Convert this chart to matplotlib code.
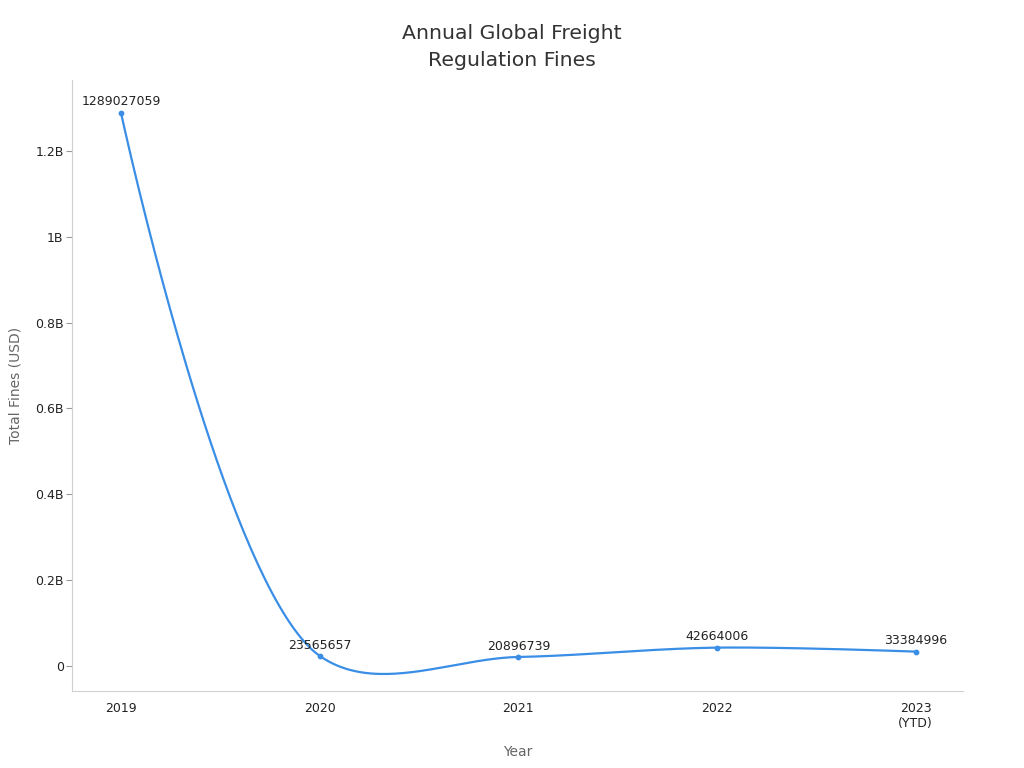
import numpy as np
import matplotlib
matplotlib.use("Agg")
import matplotlib.pyplot as plt
from matplotlib.ticker import FuncFormatter

# data
years = [2019, 2020, 2021, 2022, 2023]
year_labels = ["2019", "2020", "2021", "2022", "2023\n(YTD)"]
fines = [1289027059, 23565657, 20896739, 42664006, 33384996]

# rough pixel scale of the plot, used only to shape the smooth curve
PX_PER_YEAR = 198.75
PX_PER_UNIT = 429.2e-9


def catmull_rom(x, y, alpha=0.5, n=80):
    # centripetal catmull-rom (like d3 curveCatmullRom), done in pixel space
    P = np.column_stack([np.asarray(x, float) * PX_PER_YEAR,
                         np.asarray(y, float) * PX_PER_UNIT])
    pts = np.vstack([P[0], P, P[-1]])
    out = []
    for i in range(1, len(pts) - 2):
        p0, p1, p2, p3 = pts[i - 1], pts[i], pts[i + 1], pts[i + 2]
        l01 = np.linalg.norm(p1 - p0)
        l12 = np.linalg.norm(p2 - p1)
        l23 = np.linalg.norm(p3 - p2)
        c1 = p1.copy()
        c2 = p2.copy()
        if l01 > 1e-9:
            a = 2 * l01 ** (2 * alpha) + 3 * l01 ** alpha * l12 ** alpha + l12 ** (2 * alpha)
            m = 3 * l01 ** alpha * (l01 ** alpha + l12 ** alpha)
            c1 = (p1 * a - p0 * l12 ** (2 * alpha) + p2 * l01 ** (2 * alpha)) / m
        if l23 > 1e-9:
            b = 2 * l23 ** (2 * alpha) + 3 * l23 ** alpha * l12 ** alpha + l12 ** (2 * alpha)
            m = 3 * l23 ** alpha * (l23 ** alpha + l12 ** alpha)
            c2 = (p2 * b + p1 * l23 ** (2 * alpha) - p3 * l12 ** (2 * alpha)) / m
        t = np.linspace(0, 1, n)[:, None]
        seg = ((1 - t) ** 3) * p1 + 3 * ((1 - t) ** 2) * t * c1 + 3 * (1 - t) * t ** 2 * c2 + t ** 3 * p2
        out.append(seg)
    out = np.vstack(out)
    return out[:, 0] / PX_PER_YEAR, out[:, 1] / PX_PER_UNIT


line_color = "#3a8ee6"

fig = plt.figure(figsize=(10.24, 7.68), dpi=100)
ax = fig.add_axes([0.0703, 0.1003, 0.8697, 0.7955])

xs, ys = catmull_rom(years, fines)
ax.plot(xs, ys, color=line_color, lw=1.6)
ax.scatter(years, fines, color=line_color, s=10, zorder=3)

for x, v in zip(years, fines):
    ax.annotate(str(v), (x, v), xytext=(0, 3), textcoords="offset points",
                ha="center", va="bottom", fontsize=9, color="#222222")

ax.set_xlim(2019 - 0.2465, 2023 + 0.236)
ax.set_ylim(-0.0583e9, 1.365e9)
ax.set_xticks(years)
ax.set_xticklabels(year_labels)
ax.set_yticks([0, 0.2e9, 0.4e9, 0.6e9, 0.8e9, 1.0e9, 1.2e9])


def fmt(v, pos):
    if v == 0:
        return "0"
    s = f"{v / 1e9:.1f}".rstrip("0").rstrip(".")
    return s + "B"


ax.yaxis.set_major_formatter(FuncFormatter(fmt))

for side in ["top", "right"]:
    ax.spines[side].set_visible(False)
for side in ["left", "bottom"]:
    ax.spines[side].set_color("#d0d0d0")
ax.tick_params(axis="y", colors="#999999", labelcolor="#222222", labelsize=9, length=4, pad=2)
ax.tick_params(axis="x", length=0, labelcolor="#222222", labelsize=9, pad=8)

ax.set_xlabel("Year", fontsize=10, color="#666666", labelpad=11)
ax.set_ylabel("Total Fines (USD)", fontsize=10, color="#666666", labelpad=9)
fig.suptitle("Annual Global Freight\nRegulation Fines", fontsize=14.7, color="#333333",
             y=0.939, va="center", linespacing=1.55)

plt.savefig("out.png", dpi=100)
